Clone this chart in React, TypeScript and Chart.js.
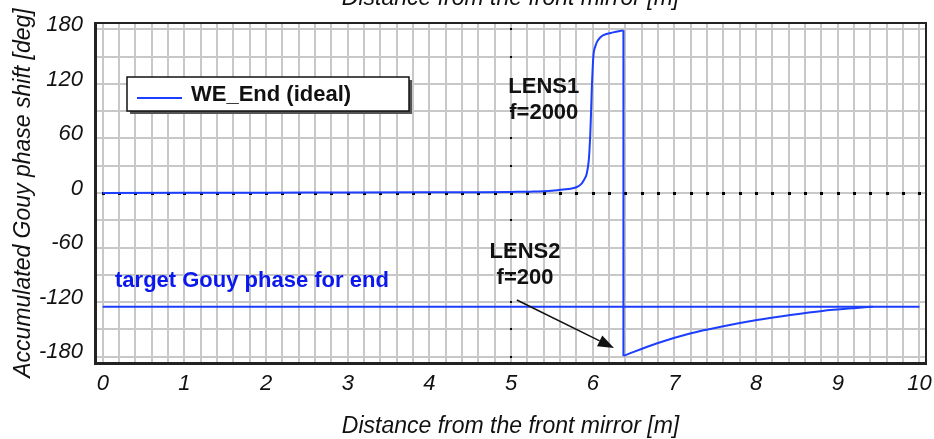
import { useEffect, useRef } from 'react';
import { Chart, registerables } from 'chart.js';

Chart.register(...registerables);

// ---- data ----
const lens1X = [0, 1, 2, 3, 4, 4.6, 5.0, 5.25, 5.5, 5.6, 5.7, 5.8, 5.86, 5.89, 5.925, 5.95, 5.96, 5.97, 5.98, 5.99, 6.0, 6.01, 6.03, 6.05, 6.09, 6.13, 6.25, 6.375];
const lens1Y = [0, 0.2, 0.4, 0.6, 0.8, 0.9, 1.2, 1.5, 2.5, 3.5, 4.5, 6.3, 10, 14, 21, 35, 48, 66, 92, 120, 140, 153, 161, 166, 171, 173.7, 176.7, 178.9];
const lens2X = [6.375, 6.78, 7.19, 7.6, 8.01, 8.42, 8.81, 9.23, 9.43];
const lens2Y = [-179.2, -165.5, -154.5, -146.5, -139.7, -134.2, -129.7, -126.4, -125.0];
const targetX = [0, 10];
const targetY = [-125, -125];
const xTickLabels = [0, 1, 2, 3, 4, 5, 6, 7, 8, 9, 10];
const yTickLabels = [-180, -120, -60, 0, 60, 120, 180];

const legendLabel = 'WE_End (ideal)';
const xTitle = 'Distance from the front mirror [m]';
const yTitle = 'Accumulated Gouy phase shift [deg]';

// annotation anchors in data coordinates
const notes = [
  { text: 'LENS1', x: 5.40, y: 109.6, color: '#111', align: 'center' },
  { text: 'f=2000', x: 5.40, y: 81.4, color: '#111', align: 'center' },
  { text: 'LENS2', x: 5.17, y: -71.8, color: '#111', align: 'center' },
  { text: 'f=200', x: 5.17, y: -100.4, color: '#111', align: 'center' },
  { text: 'target Gouy phase for end', x: 0.15, y: -103, color: '#0a18ee', align: 'left' },
];
const arrowFrom = { x: 5.07, y: -117.7 };
const arrowTo = { x: 6.26, y: -170.4 };

const FONT = '"Liberation Sans", Arial, Helvetica, sans-serif';
const BLUE = 'rgb(28,62,255)';

const toPts = (xs: number[], ys: number[]) => xs.map((x, i) => ({ x, y: ys[i] }));

const overlay = {
  id: 'overlay',
  beforeDatasetsDraw(chart: any) {
    const { ctx, chartArea: ca, scales } = chart;
    const x = scales.x;
    const y = scales.y;
    ctx.save();
    ctx.fillStyle = '#000';
    const y0 = Math.round(y.getPixelForValue(0));
    x.ticks.forEach((t: any) => {
      const px = Math.round(x.getPixelForValue(t.value));
      ctx.fillRect(px - 1, y0 - 1, 3, 3);
    });
    const x5 = Math.round(x.getPixelForValue(5));
    y.ticks.forEach((t: any) => {
      const py = Math.round(y.getPixelForValue(t.value));
      ctx.fillRect(x5 - 1, py - 1, 2, 2);
    });
    ctx.strokeStyle = '#222';
    ctx.lineWidth = 2;
    ctx.beginPath();
    ctx.moveTo(ca.left, ca.top);
    ctx.lineTo(ca.right, ca.top);
    ctx.lineTo(ca.right, ca.bottom);
    ctx.stroke();
    ctx.restore();
  },
  afterDatasetsDraw(chart: any) {
    const { ctx, chartArea: ca, scales } = chart;
    const x = scales.x;
    const y = scales.y;
    ctx.save();
    // legend box
    const bx = ca.left + 32;
    const by = ca.top + 54;
    const bw = 282;
    const bh = 34;
    ctx.fillStyle = '#555';
    ctx.fillRect(bx + 3, by + 3, bw, bh);
    ctx.fillStyle = '#fff';
    ctx.fillRect(bx, by, bw, bh);
    ctx.strokeStyle = '#111';
    ctx.lineWidth = 1.5;
    ctx.strokeRect(bx, by, bw, bh);
    ctx.strokeStyle = BLUE;
    ctx.lineWidth = 2;
    ctx.beginPath();
    ctx.moveTo(bx + 10, by + 21);
    ctx.lineTo(bx + 55, by + 21);
    ctx.stroke();
    ctx.fillStyle = '#111';
    ctx.font = `bold 22px ${FONT}`;
    ctx.textAlign = 'left';
    ctx.textBaseline = 'alphabetic';
    ctx.fillText(legendLabel, bx + 64, by + 24);

    // notes
    notes.forEach((n) => {
      ctx.fillStyle = n.color;
      ctx.textAlign = n.align as CanvasTextAlign;
      ctx.fillText(n.text, x.getPixelForValue(n.x), y.getPixelForValue(n.y));
    });

    // arrow
    const ax1 = x.getPixelForValue(arrowFrom.x);
    const ay1 = y.getPixelForValue(arrowFrom.y);
    const ax2 = x.getPixelForValue(arrowTo.x);
    const ay2 = y.getPixelForValue(arrowTo.y);
    const ang = Math.atan2(ay2 - ay1, ax2 - ax1);
    const L = 16;
    const W = 6;
    const bxp = ax2 - L * Math.cos(ang);
    const byp = ay2 - L * Math.sin(ang);
    ctx.strokeStyle = '#111';
    ctx.lineWidth = 1.5;
    ctx.beginPath();
    ctx.moveTo(ax1, ay1);
    ctx.lineTo(bxp, byp);
    ctx.stroke();
    ctx.fillStyle = '#111';
    ctx.beginPath();
    ctx.moveTo(ax2, ay2);
    ctx.lineTo(bxp + W * Math.sin(ang), byp - W * Math.cos(ang));
    ctx.lineTo(bxp - W * Math.sin(ang), byp + W * Math.cos(ang));
    ctx.closePath();
    ctx.fill();
    ctx.restore();
  },
  afterDraw(chart: any) {
    const { ctx, chartArea: ca } = chart;
    ctx.save();
    ctx.fillStyle = '#111';
    ctx.font = `italic 23px ${FONT}`;
    ctx.textAlign = 'center';
    ctx.textBaseline = 'alphabetic';
    const cx = (ca.left + ca.right) / 2;
    ctx.fillText(xTitle, cx, 5);
    ctx.fillText(xTitle, cx, 433);
    ctx.translate(30, (ca.top + ca.bottom) / 2);
    ctx.rotate(-Math.PI / 2);
    ctx.fillText(yTitle, 0, 0);
    ctx.restore();
  },
};

export default function App() {
  const ref = useRef<HTMLCanvasElement | null>(null);
  useEffect(() => {
    document.body.style.margin = '0';
    const canvas = ref.current;
    if (!canvas) return;
    const tickFont = { family: FONT, size: 22, style: 'italic' as const };
    const chart = new Chart(canvas, {
      type: 'scatter',
      data: {
        datasets: [
          { data: toPts(targetX, targetY), showLine: true, borderColor: BLUE, borderWidth: 2, pointRadius: 0, tension: 0 },
          { data: toPts(lens1X, lens1Y), showLine: true, borderColor: BLUE, borderWidth: 2, pointRadius: 0, cubicInterpolationMode: 'monotone' },
          { data: toPts([lens1X[lens1X.length - 1], lens2X[0]], [lens1Y[lens1Y.length - 1], lens2Y[0]]), showLine: true, borderColor: BLUE, borderWidth: 2, pointRadius: 0 },
          { data: toPts(lens2X, lens2Y), showLine: true, borderColor: BLUE, borderWidth: 2, pointRadius: 0, cubicInterpolationMode: 'monotone' },
        ],
      },
      options: {
        animation: false,
        responsive: false,
        events: [],
        layout: { padding: { top: 23, right: 8, left: 0, bottom: 0 } },
        plugins: { legend: { display: false }, tooltip: { enabled: false }, title: { display: false } },
        scales: {
          x: {
            type: 'linear',
            min: -0.095,
            max: 10.08,
            afterFit: (s: any) => { s.height = 76; s.paddingLeft = 0; s.paddingRight = 0; },
            ticks: {
              stepSize: 0.2,
              includeBounds: false,
              autoSkip: false,
              maxRotation: 0,
              minRotation: 0,
              padding: 8,
              color: '#111',
              font: tickFont,
              callback: (v: any) => {
                const r = Math.round(Number(v) * 1000) / 1000;
                return xTickLabels.includes(r) ? String(r) : '';
              },
            },
            grid: { color: '#c8c8c8', lineWidth: 2, drawTicks: false },
            border: { color: '#222', width: 3 },
          },
          y: {
            type: 'linear',
            min: -187,
            max: 187,
            afterFit: (s: any) => { s.width = 95; s.paddingTop = 0; s.paddingBottom = 0; },
            ticks: {
              stepSize: 30,
              includeBounds: false,
              autoSkip: false,
              padding: 12,
              labelOffset: -4.5,
              color: '#111',
              font: tickFont,
              callback: (v: any) => {
                const r = Math.round(Number(v));
                return yTickLabels.includes(r) ? String(r) : '';
              },
            },
            grid: { color: '#c8c8c8', lineWidth: 2, drawTicks: false },
            border: { color: '#222', width: 3 },
          },
        },
      },
      plugins: [overlay],
    } as any);
    return () => chart.destroy();
  }, []);
  return (
    <div style={{ position: 'fixed', left: 0, top: 0, width: 934, height: 439, background: '#fff' }}>
      <canvas ref={ref} width={934} height={439} style={{ display: 'block', width: 934, height: 439 }} />
    </div>
  );
}
